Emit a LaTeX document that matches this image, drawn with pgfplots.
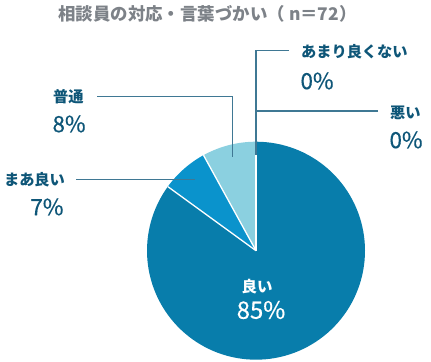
\documentclass[border=0pt]{standalone}
\usepackage{pgfplots}
\pgfplotsset{compat=1.18}
\usepackage{fontspec}
\setmainfont{Noto Sans CJK JP}
\newfontfamily\jp{Noto Sans CJK JP}
\newfontfamily\jpnum[FakeBold=0.4]{Noto Sans CJK JP}
\definecolor{cA}{HTML}{087DAB}
\definecolor{cB}{HTML}{0A93CC}
\definecolor{cC}{HTML}{8BD0E0}
\definecolor{ctitle}{HTML}{7D8288}
\definecolor{clab}{HTML}{0E5678}
\definecolor{cline}{HTML}{3F7894}
% data (percent)
\def\vA{85} % 良い
\def\vB{7}  % まあ良い
\def\vC{8}  % 普通
\def\vD{0}  % あまり良くない
\def\vE{0}  % 悪い
\def\cx{256}
\def\cy{111.3}
\def\R{109}
\pgfmathsetmacro{\aA}{90}
\pgfmathsetmacro{\aB}{90-3.6*\vA}
\pgfmathsetmacro{\aC}{\aB-3.6*\vB}
\pgfmathsetmacro{\aD}{\aC-3.6*\vC}
\pgfmathsetmacro{\xB}{\cx+\R*cos(\aB)}
\pgfmathsetmacro{\yB}{\cy+\R*sin(\aB)}
\pgfmathsetmacro{\xC}{\cx+\R*cos(\aC)}
\pgfmathsetmacro{\yC}{\cy+\R*sin(\aC)}
\pgfmathsetmacro{\xA}{\cx+\R*cos(\aA)}
\pgfmathsetmacro{\yA}{\cy+\R*sin(\aA)}
\begin{document}
\begin{tikzpicture}
\begin{axis}[width=431bp,height=362bp,scale only axis,
  xmin=0,xmax=431,ymin=0,ymax=362,axis lines=none,clip=false]
\addplot[draw=none,forget plot] coordinates {(0,0) (431,362)};
\addplot[fill=cA,draw=none,domain=\aB:\aA,samples=120,variable=\t]
  ({\cx+\R*cos(t)},{\cy+\R*sin(t)}) -- (axis cs:\cx,\cy) -- cycle;
\addplot[fill=cB,draw=none,domain=\aC:\aB,samples=30,variable=\t]
  ({\cx+\R*cos(t)},{\cy+\R*sin(t)}) -- (axis cs:\cx,\cy) -- cycle;
\addplot[fill=cC,draw=none,domain=\aD:\aC,samples=30,variable=\t]
  ({\cx+\R*cos(t)},{\cy+\R*sin(t)}) -- (axis cs:\cx,\cy) -- cycle;
\addplot[white,line width=1.3bp] coordinates {(\cx,\cy) (\xB,\yB)};
\addplot[white,line width=1.3bp] coordinates {(\cx,\cy) (\xC,\yC)};
\addplot[white,line width=1.3bp] coordinates {(\cx,\cy) (\xA,\yA)};
% leader lines
\addplot[cline,line width=1.2bp] coordinates {(97,265.3) (232.3,265.3) (232.3,205.3)};
\addplot[cline,line width=1.2bp] coordinates {(76,182.7) (195,182.7)};
\addplot[cline,line width=1.2bp] coordinates {(289,311.3) (256,311.3) (256,207)};
\addplot[cline,line width=1.2bp] coordinates {(378,251) (256,251)};
% title
\node[text=ctitle,font=\jp\bfseries\fontsize{17.5}{19}\selectfont] at (axis cs:207.5,348.5) {相談員の対応・言葉づかい（ n＝72）};
% labels
\node[text=clab,anchor=west,font=\jp\bfseries\fontsize{15.3}{17}\selectfont] at (axis cs:297.5,310.3) {あまり良くない};
\node[text=clab,anchor=west,font=\jpnum\fontsize{22.5}{24}\selectfont] at (axis cs:297,281) {0\%};
\node[text=clab,anchor=west,font=\jp\bfseries\fontsize{15.3}{17}\selectfont] at (axis cs:386.5,249.3) {悪い};
\node[text=clab,anchor=west,font=\jpnum\fontsize{22.5}{24}\selectfont] at (axis cs:386,222) {0\%};
\node[text=clab,anchor=west,font=\jp\bfseries\fontsize{15.3}{17}\selectfont] at (axis cs:49.5,265.3) {普通};
\node[text=clab,anchor=west,font=\jpnum\fontsize{22.5}{24}\selectfont] at (axis cs:49,238) {8\%};
\node[text=clab,anchor=east,font=\jp\bfseries\fontsize{15.3}{17}\selectfont] at (axis cs:68.5,182.7) {まあ良い};
\node[text=clab,anchor=east,font=\jpnum\fontsize{22.5}{24}\selectfont] at (axis cs:67,155) {7\%};
\node[text=white,font=\jp\bfseries\fontsize{15.5}{17}\selectfont] at (axis cs:257,75.3) {良い};
\node[text=white,font=\jpnum\fontsize{24}{26}\selectfont] at (axis cs:261,52) {85\%};
\end{axis}
\end{tikzpicture}
\end{document}
